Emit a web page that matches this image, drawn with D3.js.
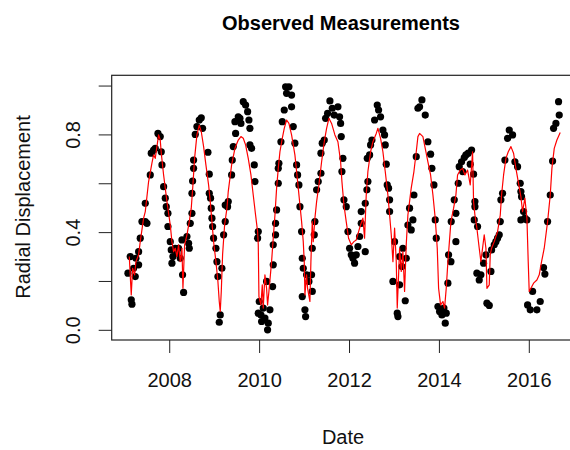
<!DOCTYPE html>
<html>
<head>
<meta charset="utf-8">
<script src="https://cdn.jsdelivr.net/npm/d3@7"></script>
<style>
  html, body { margin: 0; padding: 0; background: #fff; }
  svg { display: block; font-family: "Liberation Sans", Arial, sans-serif; }
</style>
</head>
<body>
<svg id="chart" width="570" height="450"></svg>
<script>
// Observation times (decimal years) and measured radial displacement
const obsYear = [
  2007.081,2007.133,2007.155,2007.170,2007.207,2007.244,2007.259,2007.319,2007.319,2007.355,
  2007.393,2007.467,2007.467,2007.504,2007.578,2007.600,2007.652,2007.689,2007.749,2007.800,
  2007.823,2007.838,2007.875,2007.912,2007.934,2007.971,2007.971,2008.023,2008.045,2008.060,
  2008.082,2008.134,2008.171,2008.208,2008.245,2008.283,2008.297,2008.320,2008.394,2008.431,
  2008.446,2008.468,2008.505,2008.505,2008.520,2008.542,2008.542,2008.579,2008.616,2008.668,
  2008.713,2008.742,2008.861,2008.891,2008.891,2008.920,2008.935,2008.950,2008.965,2008.987,
  2009.039,2009.061,2009.083,2009.113,2009.135,2009.172,2009.210,2009.246,2009.246,
  2009.298,2009.313,2009.388,2009.402,2009.425,2009.462,2009.477,2009.536,2009.573,2009.595,
  2009.647,2009.699,2009.744,2009.773,2009.795,2009.795,2009.832,2009.892,2009.907,2009.966,
  2009.981,2009.981,2010.003,2010.040,2010.055,2010.092,2010.129,2010.166,2010.188,2010.203,
  2010.240,2010.300,2010.314,2010.314,2010.366,2010.366,2010.389,2010.426,2010.426,2010.440,
  2010.485,2010.515,2010.559,2010.589,2010.611,2010.663,2010.722,2010.722,2010.759,2010.796,
  2010.834,2010.856,2010.885,2010.908,2010.945,2010.960,2010.960,2010.982,2011.019,2011.034,
  2011.056,2011.108,2011.167,2011.182,2011.182,2011.227,2011.241,2011.279,2011.315,2011.375,
  2011.375,2011.404,2011.449,2011.479,2011.523,2011.575,2011.627,2011.671,
  2011.753,2011.790,2011.813,2011.827,2011.842,2011.864,2011.887,2011.938,2011.976,2012.013,
  2012.050,2012.087,2012.124,2012.161,2012.198,2012.235,2012.272,2012.272,2012.361,2012.361,
  2012.398,2012.406,2012.420,2012.458,2012.480,2012.510,2012.569,2012.628,2012.658,2012.702,
  2012.754,2012.791,2012.806,2012.828,2012.850,2012.880,2012.903,2012.903,2012.977,2013.014,
  2013.073,2013.088,2013.125,2013.125,2013.177,2013.199,2013.251,2013.273,2013.310,2013.347,
  2013.384,2013.421,2013.444,2013.496,2013.533,2013.570,2013.622,2013.696,2013.755,2013.815,
  2013.844,2013.889,2013.918,2013.941,2013.978,2014.015,2014.067,2014.111,2014.141,2014.163,
  2014.200,2014.215,2014.274,
  2014.267,2014.341,2014.378,2014.378,2014.430,2014.452,2014.504,2014.527,2014.564,2014.601,
  2014.653,2014.697,2014.727,2014.771,2014.786,2014.801,2014.801,2014.845,2014.860,2014.897,
  2014.934,2014.994,2015.046,2015.068,2015.120,2015.157,2015.172,2015.231,2015.268,2015.305,
  2015.342,2015.365,2015.379,2015.416,2015.468,2015.528,2015.565,2015.639,2015.691,2015.750,
  2015.809,2015.824,2015.824,2015.839,2015.884,2015.913,2015.958,2015.973,2016.032,2016.084,
  2016.180,2016.254,2016.328,2016.358,2016.418,2016.477,2016.529,2016.551,2016.603,2016.662,
  2016.677
];
const obsValue = [
  0.232,0.300,0.123,0.105,0.252,0.218,0.293,0.266,0.320,0.375,
  0.443,0.443,0.518,0.436,0.634,0.723,0.736,0.743,0.804,0.791,
  0.729,0.675,0.586,0.539,0.504,0.477,0.423,0.361,0.327,0.273,
  0.300,0.334,0.314,0.334,0.293,0.368,0.225,0.153,0.382,0.354,
  0.334,0.436,0.477,0.559,0.609,0.661,0.695,0.800,0.832,0.859,
  0.868,0.825,0.727,0.637,0.559,0.539,0.498,0.457,0.423,0.375,
  0.334,0.279,0.218,0.031,0.061,0.252,0.389,0.443,0.511,
  0.504,0.525,0.634,0.695,0.750,0.852,0.804,0.872,0.866,0.845,
  0.934,0.920,0.893,0.859,0.825,0.757,0.743,0.675,0.607,0.375,
  0.402,0.068,0.116,0.061,0.034,0.089,0.048,0.198,0.000,0.027,
  0.082,0.177,0.266,0.348,0.389,0.436,0.491,0.600,0.661,0.682,
  0.770,0.852,0.900,0.995,0.968,0.995,0.961,0.913,0.832,0.764,
  0.675,0.634,0.593,0.504,0.402,0.293,0.136,0.252,0.082,0.054,
  0.225,0.198,0.225,0.157,0.334,0.389,0.443,0.573,0.607,0.641,
  0.723,0.764,0.777,0.866,0.886,0.937,0.907,0.879,
  0.913,0.872,0.845,0.791,0.648,0.702,0.532,0.504,0.402,0.334,
  0.307,0.293,0.273,0.307,0.341,0.382,0.436,0.484,0.320,0.518,
  0.573,0.702,0.607,0.716,0.757,0.777,0.859,0.920,0.900,0.872,
  0.818,0.798,0.757,0.678,0.593,0.580,0.532,0.484,0.198,0.361,
  0.068,0.054,0.300,0.184,0.259,0.334,0.119,0.293,0.429,0.498,
  0.409,0.450,0.552,0.709,0.907,0.913,0.941,0.879,0.770,0.719,
  0.661,0.593,0.450,0.375,0.095,0.075,0.061,0.089,0.027,0.068,
  0.191,0.307,0.443,
  0.279,0.532,0.477,0.361,0.600,0.668,0.688,0.648,0.705,0.716,
  0.723,0.678,0.736,0.637,0.450,0.525,0.504,0.232,0.423,0.204,
  0.225,0.273,0.307,0.109,0.100,0.239,0.327,0.348,0.361,0.375,
  0.389,0.443,0.532,0.559,0.695,0.784,0.818,0.798,0.688,0.668,
  0.600,0.566,0.450,0.545,0.484,0.457,0.450,0.102,0.082,0.157,
  0.082,0.116,0.255,0.228,0.443,0.552,0.691,0.825,0.845,0.934,
  0.879
];

// Fitted model curve (decimal years, predicted displacement)
const fitYear = [
  2007.111,2007.155,2007.185,2007.230,2007.259,2007.319,2007.355,2007.430,2007.467,2007.541,
  2007.615,2007.652,2007.689,2007.726,2007.764,2007.800,2007.823,2007.875,2007.949,2008.023,
  2008.060,2008.097,2008.134,2008.171,2008.208,2008.245,2008.283,2008.305,2008.342,2008.394,
  2008.446,2008.490,2008.527,2008.564,2008.616,2008.668,2008.713,2008.765,2008.816,2008.876,
  2008.913,2008.950,2008.987,2009.039,2009.083,2009.113,2009.135,2009.158,2009.187,2009.232,
  2009.284,
  2009.313,2009.388,2009.462,2009.536,2009.595,2009.647,2009.699,2009.758,2009.818,2009.869,
  2009.921,2009.966,2009.981,2009.996,2010.040,2010.070,2010.092,2010.129,2010.166,2010.188,
  2010.218,2010.277,2010.314,2010.352,2010.389,2010.426,2010.463,2010.515,2010.559,2010.611,
  2010.663,2010.722,2010.796,2010.834,2010.871,2010.908,2010.945,2010.982,2011.004,2011.019,
  2011.056,2011.078,2011.130,2011.152,2011.182,2011.204,2011.241,2011.279,2011.330,2011.390,
  2011.449,2011.501,2011.553,2011.612,2011.686,
  2011.753,2011.813,2011.842,2011.887,2011.938,2011.990,2012.050,2012.109,2012.161,2012.213,
  2012.257,2012.309,2012.346,2012.383,2012.420,2012.480,2012.532,2012.606,2012.643,2012.702,
  2012.754,2012.806,2012.865,2012.903,2012.940,2012.977,2013.014,2013.051,2013.073,2013.103,
  2013.125,2013.162,2013.199,2013.236,2013.273,2013.310,2013.347,2013.384,2013.444,2013.496,
  2013.533,2013.570,2013.644,2013.696,2013.755,2013.815,2013.867,2013.918,2013.963,2013.993,
  2014.037,2014.089,2014.126,2014.163,2014.200,
  2014.267,2014.327,2014.378,2014.415,2014.475,2014.527,2014.578,2014.638,2014.697,2014.749,
  2014.771,2014.801,2014.845,2014.897,2014.934,2015.008,2015.046,2015.068,2015.120,2015.142,
  2015.172,2015.231,2015.305,2015.365,2015.394,2015.439,2015.491,2015.543,2015.602,2015.661,
  2015.713,2015.765,2015.824,2015.861,2015.913,2015.958,2015.987,2016.009,2016.047,2016.106,
  2016.180,2016.232,2016.284,2016.343,2016.418,2016.477,2016.514,2016.566,2016.625,2016.699
];
const fitValue = [
  0.300,0.143,0.252,0.225,0.279,0.307,0.361,0.457,0.484,0.607,
  0.682,0.716,0.702,0.750,0.798,0.777,0.723,0.634,0.525,0.429,
  0.361,0.320,0.334,0.300,0.348,0.279,0.334,0.170,0.348,0.389,
  0.443,0.498,0.593,0.702,0.798,0.838,0.811,0.750,0.675,0.593,
  0.525,0.443,0.361,0.279,0.198,0.116,0.075,0.157,0.307,0.429,
  0.498,
  0.566,0.675,0.743,0.777,0.791,0.784,0.757,0.702,0.634,0.552,
  0.470,0.402,0.348,0.136,0.102,0.184,0.089,0.225,0.170,0.102,
  0.157,0.279,0.375,0.470,0.580,0.661,0.729,0.784,0.825,0.859,
  0.845,0.798,0.716,0.648,0.580,0.511,0.443,0.361,0.279,0.143,
  0.225,0.170,0.116,0.279,0.443,0.361,0.457,0.525,0.593,0.688,
  0.770,0.825,0.866,0.845,0.798,
  0.770,0.688,0.607,0.511,0.443,0.375,0.348,0.361,0.368,0.402,
  0.429,0.457,0.375,0.552,0.648,0.729,0.770,0.804,0.825,0.784,
  0.729,0.648,0.552,0.470,0.389,0.279,0.416,0.279,0.089,0.225,
  0.334,0.239,0.320,0.157,0.348,0.470,0.525,0.580,0.648,0.729,
  0.791,0.804,0.791,0.743,0.688,0.634,0.552,0.457,0.334,0.170,
  0.102,0.116,0.089,0.170,0.279,
  0.443,0.498,0.552,0.634,0.654,0.661,0.634,0.654,0.593,0.729,
  0.525,0.470,0.416,0.334,0.279,0.389,0.334,0.170,0.184,0.307,
  0.334,0.361,0.402,0.470,0.552,0.634,0.702,0.729,0.750,0.723,
  0.661,0.607,0.545,0.484,0.539,0.457,0.279,0.157,0.170,0.191,
  0.204,0.225,0.279,0.334,0.443,0.552,0.661,0.743,0.777,0.808
];

const xTicks = [2008, 2010, 2012, 2014, 2016];
const yTicks = [0, 0.2, 0.4, 0.6, 0.8, 1.0];
const yTickLabels = ["0.0", "", "0.4", "", "0.8", ""];

const svg = d3.select("#chart");
const plotLeft = 111.7, plotRight = 576, plotTop = 75.3, plotBottom = 340;

const x = d3.scaleLinear().domain([2006.72, 2017.05]).range([plotLeft, plotRight]);
const y = d3.scaleLinear().domain([-0.0417, 1.042]).range([plotBottom, plotTop]);

const axisFont = 20;

// X axis
const gx = svg.append("g").attr("transform", `translate(0,${plotBottom})`)
  .call(d3.axisBottom(x).tickValues(xTicks).tickFormat(d3.format("d"))
    .tickSize(13).tickSizeOuter(0).tickPadding(0));
gx.select(".domain").remove();
gx.selectAll(".tick line").attr("stroke", "#222").attr("stroke-width", 1);
gx.selectAll(".tick text").attr("font-size", axisFont).attr("fill", "#111")
  .attr("font-family", "Liberation Sans, Arial, sans-serif")
  .attr("dy", null).attr("y", 47);

// Y axis
const gy = svg.append("g").attr("transform", `translate(${plotLeft},0)`)
  .call(d3.axisLeft(y).tickValues(yTicks).tickFormat((d, i) => yTickLabels[i])
    .tickSize(13).tickSizeOuter(0).tickPadding(0));
gy.select(".domain").remove();
gy.selectAll(".tick line").attr("stroke", "#222").attr("stroke-width", 1);
gy.selectAll(".tick text").attr("font-size", axisFont).attr("fill", "#111")
  .attr("font-family", "Liberation Sans, Arial, sans-serif")
  .attr("x", null).attr("dy", null).attr("text-anchor", "middle")
  .attr("transform", "translate(-32,0) rotate(-90)");

// Plot frame
svg.append("rect")
  .attr("x", plotLeft).attr("y", plotTop)
  .attr("width", plotRight - plotLeft).attr("height", plotBottom - plotTop)
  .attr("fill", "none").attr("stroke", "#222").attr("stroke-width", 1.2);

svg.append("clipPath").attr("id", "plotclip")
  .append("rect").attr("x", plotLeft).attr("y", plotTop)
  .attr("width", plotRight - plotLeft).attr("height", plotBottom - plotTop);

const plot = svg.append("g").attr("clip-path", "url(#plotclip)");

// Observed points
const pts = obsYear.map((t, i) => ({ t, v: obsValue[i] }));
plot.append("g").selectAll("circle").data(pts).join("circle")
  .attr("cx", d => x(d.t)).attr("cy", d => y(d.v))
  .attr("r", 3.6).attr("fill", "#000");

// Fitted curve
const fit = fitYear.map((t, i) => ({ t, v: fitValue[i] }));
plot.append("path").datum(fit)
  .attr("d", d3.line().x(d => x(d.t)).y(d => y(d.v)))
  .attr("fill", "none").attr("stroke", "#ff0000").attr("stroke-width", 1.2)
  .attr("stroke-linejoin", "round");

// Titles
svg.append("text").attr("x", 341).attr("y", 30)
  .attr("text-anchor", "middle").attr("font-size", 20).attr("font-weight", "bold")
  .attr("fill", "#000").text("Observed Measurements");

svg.append("text").attr("x", 343).attr("y", 444)
  .attr("text-anchor", "middle").attr("font-size", axisFont).attr("fill", "#111")
  .text("Date");

svg.append("text")
  .attr("transform", "translate(30,207) rotate(-90)")
  .attr("text-anchor", "middle").attr("font-size", axisFont).attr("fill", "#111")
  .text("Radial Displacement");
</script>
</body>
</html>
